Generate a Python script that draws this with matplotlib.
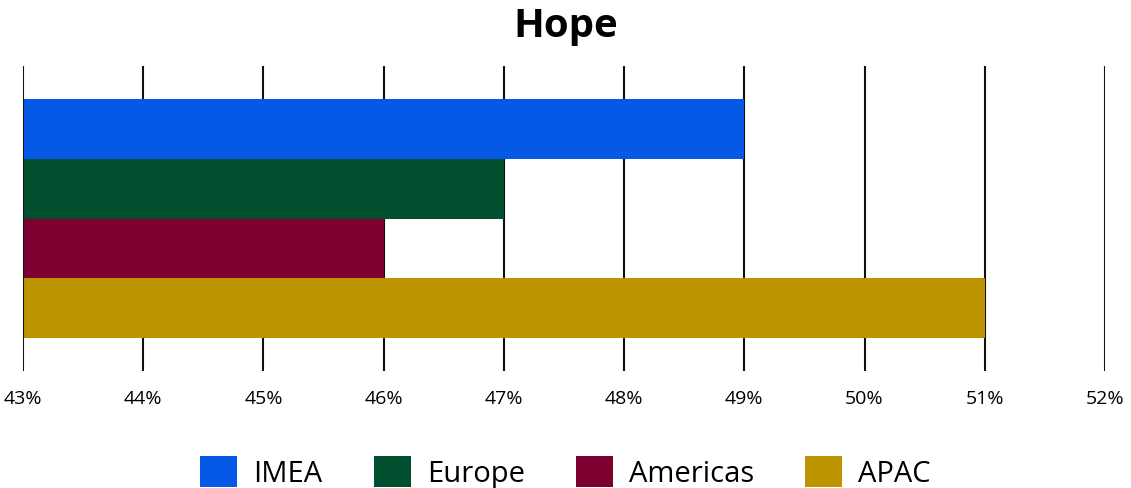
import matplotlib.pyplot as plt
from matplotlib.patches import Patch

regions = ["IMEA", "Europe", "Americas", "APAC"]
values = [49, 47, 46, 51]
colors = ["#0659E6", "#005030", "#7E0030", "#BC9400"]
ticks = [43, 44, 45, 46, 47, 48, 49, 50, 51, 52]
tick_labels = ["43%", "44%", "45%", "46%", "47%", "48%", "49%", "50%", "51%", "52%"]

plt.rcParams['font.family'] = ['Open Sans', 'DejaVu Sans']

fig = plt.figure(figsize=(11.31, 4.89), dpi=100)
ax = fig.add_axes([23/1131, 117/489, (1105-23)/1131, (372-67)/489])

ypos = list(range(len(regions)))
ax.barh(ypos, values, height=1.0, color=colors, zorder=2)
for t in ticks:
    ax.axvline(t, color="#111111", linewidth=1.5, zorder=1 if t != 43 else 3)

ax.set_xlim(43, 52)
ax.set_ylim(len(regions) - 0.5 + 0.56, -0.5 - 0.56)
ax.set_xticks(ticks)
ax.set_xticklabels(tick_labels, fontsize=14)
ax.set_yticks([])
ax.tick_params(axis='x', length=0, pad=13)
for s in ax.spines.values():
    s.set_visible(False)

fig.text(0.5, 1 - 37/489, "Hope", fontsize=29, fontweight="bold", ha="center", va="baseline")

handles = [Patch(facecolor=c, label=r) for r, c in zip(regions, colors)]
fig.legend(handles=handles, loc="lower center", bbox_to_anchor=(0.5, 0.0), ncol=4,
           frameon=False, fontsize=21, handlelength=1.27, handleheight=1.27,
           handletextpad=0.55, columnspacing=1.75, borderaxespad=0, borderpad=0)

fig.savefig("out.png", dpi=100)
